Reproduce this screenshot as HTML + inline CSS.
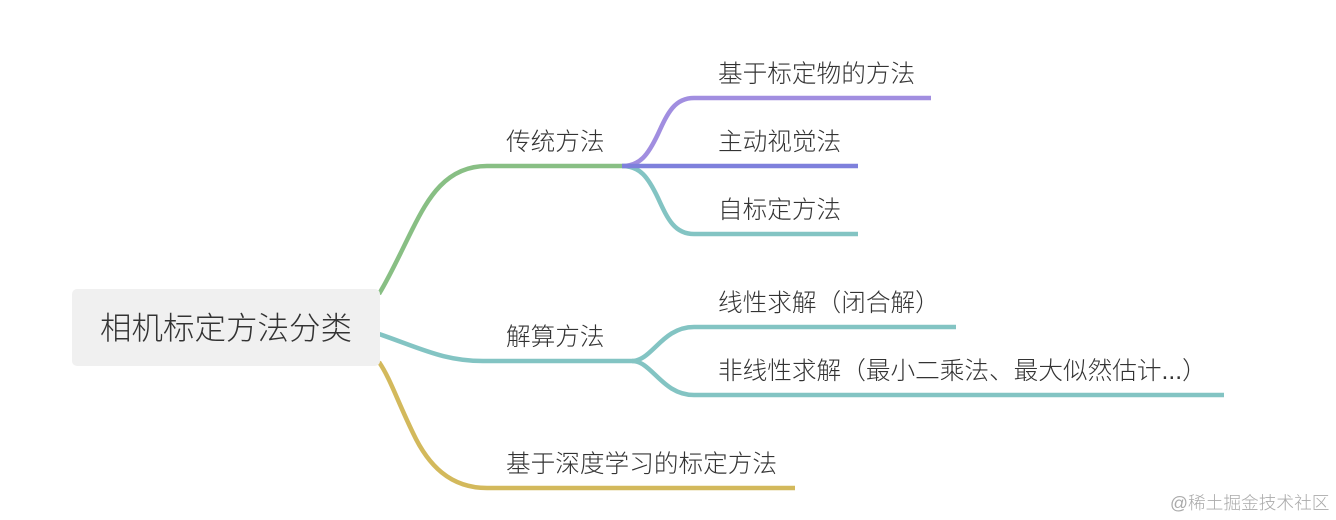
<!DOCTYPE html>
<html><head><meta charset="utf-8">
<style>
html,body{margin:0;padding:0;background:#fff;width:1336px;height:520px;overflow:hidden}
svg{position:absolute;left:0;top:0}
text{font-family:"Liberation Sans","Noto Sans CJK SC",sans-serif;fill:#333;font-size:24.65px;font-weight:300}
</style></head><body>
<svg width="1336" height="520" viewBox="0 0 1336 520" xmlns="http://www.w3.org/2000/svg">
<rect width="1336" height="520" fill="#fff"/>
<g fill="none" stroke-width="4.5" stroke-linecap="butt">
<path d="M379 294 C 390 276 400 254 412 230 C 428 198 446 166 487 166 L622 166" stroke="#88bf84"/>
<path d="M379 334 C 420 348 445 362 487 361 L632 361" stroke="#83c4c3"/>
<path d="M379 362 C 390 378 397 400 413 433 C 428 465 450 488 487 488 L795 488" stroke="#d3b95c"/>
<path d="M622 166 C 640 166 648 155 658 134 C 668 112 675 98 694 98 L931 98" stroke="#a18ee0"/>
<path d="M622 166 C 640 166 648 177 658 198 C 668 220 675 234 694 234 L858 234" stroke="#83c4c3"/>
<path d="M622 166 L858 166" stroke="#7e80dc"/>
<path d="M632 361 C 652 361 662 327 694 327 L956 327" stroke="#83c4c3"/>
<path d="M632 361 C 652 361 662 395 694 395 L1224 395" stroke="#83c4c3"/>
</g>
<rect x="72" y="289" width="308" height="77" rx="5" fill="#f0f0f0"/>
<text x="100" y="339" style="font-size:31.5px">相机标定方法分类</text>
<text x="506" y="150">传统方法</text>
<text x="506" y="345">解算方法</text>
<text x="506" y="472">基于深度学习的标定方法</text>
<text x="718" y="82">基于标定物的方法</text>
<text x="718" y="150">主动视觉法</text>
<text x="718" y="218">自标定方法</text>
<text x="718" y="311">线性求解（闭合解）</text>
<text x="718" y="379">非线性求解（最小二乘法、最大似然估计...）</text>
<text x="1170" y="509" style="font-size:17.7px;fill:#aaa">@稀土掘金技术社区</text>
</svg>
</body></html>
